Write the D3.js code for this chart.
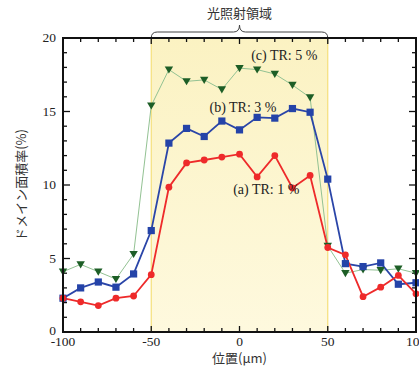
<!DOCTYPE html>
<html>
<head>
<meta charset="utf-8">
<script src="https://cdn.jsdelivr.net/npm/d3@7"></script>
<style>
  body { margin: 0; background: #fff; }
  text { font-family: "Liberation Serif", "DejaVu Serif", serif; }
  .cjk { font-family: "Noto Sans CJK JP", sans-serif; }
</style>
</head>
<body>
<div id="chart"></div>
<script>
// data
const positions = [-100, -90, -80, -70, -60, -50, -40, -30, -20, -10, 0, 10, 20, 30, 40, 50, 60, 70, 80, 90, 100]
const tr1 = [2.3, 2.05, 1.8, 2.3, 2.45, 3.9, 9.85, 11.5, 11.7, 11.9, 12.1, 10.55, 12.0, 9.8, 10.65, 5.75, 5.25, 2.4, 3.05, 3.85, 2.6]
const tr3 = [2.3, 3.0, 3.4, 3.05, 3.95, 6.9, 12.85, 13.85, 13.3, 14.35, 13.75, 14.6, 14.55, 15.2, 14.95, 10.4, 4.65, 4.45, 4.7, 3.25, 3.35]
const tr5 = [4.1, 4.6, 4.1, 3.6, 5.3, 15.4, 17.85, 17.05, 17.15, 16.5, 17.95, 17.85, 17.55, 16.8, 15.95, 5.85, 4.0, 4.25, 4.2, 4.3, 4.0]
const regionRange = [-50, 50]
const regionLabel = "光照射領域"
const xTicks = [-100, -50, 0, 50, 100]
const yTicks = [0, 5, 10, 15, 20]

const width = 419
const height = 369
const margin = { top: 38, right: 3, bottom: 37, left: 63 }

const svg = d3.select("#chart").append("svg")
  .attr("width", width)
  .attr("height", height)

const x = d3.scaleLinear().domain([-100, 100]).range([margin.left, width - margin.right])
const y = d3.scaleLinear().domain([0, 20]).range([height - margin.bottom, margin.top])

// yellow irradiated region
const grad = svg.append("defs").append("linearGradient")
  .attr("id", "yel").attr("x1", 0).attr("y1", 0).attr("x2", 0).attr("y2", 1)
grad.append("stop").attr("offset", "0%").attr("stop-color", "#fbf2c2")
grad.append("stop").attr("offset", "100%").attr("stop-color", "#fef9de")

svg.append("rect")
  .attr("x", x(regionRange[0]))
  .attr("y", y(20))
  .attr("width", x(regionRange[1]) - x(regionRange[0]))
  .attr("height", y(0) - y(20))
  .attr("fill", "url(#yel)")

regionRange.forEach(v => {
  svg.append("line")
    .attr("x1", x(v)).attr("x2", x(v))
    .attr("y1", y(20)).attr("y2", y(0))
    .attr("stroke", "#f5df7a")
    .attr("stroke-width", 1.2)
})

// brace above region
const bx0 = x(regionRange[0]), bx1 = x(regionRange[1]), bm = (bx0 + bx1) / 2
const by = y(20), bt = by - 6, bp = by - 13
svg.append("path")
  .attr("d", `M${bx0},${by} Q${bx0},${bt} ${bx0 + 6},${bt} L${bm - 6},${bt} Q${bm},${bt} ${bm},${bp} Q${bm},${bt} ${bm + 6},${bt} L${bx1 - 6},${bt} Q${bx1},${bt} ${bx1},${by}`)
  .attr("fill", "none")
  .attr("stroke", "#444")
  .attr("stroke-width", 1)

svg.append("text")
  .attr("class", "cjk")
  .attr("x", bm)
  .attr("y", 18)
  .attr("text-anchor", "middle")
  .attr("font-size", 13)
  .attr("fill", "#333")
  .text(regionLabel)

// ticks (inward, all four sides)
const tickG = svg.append("g").attr("stroke", "#111").attr("stroke-width", 1.3)
d3.range(-100, 101, 10).forEach(v => {
  const len = v % 50 === 0 ? 6 : 4
  tickG.append("line").attr("x1", x(v)).attr("x2", x(v)).attr("y1", y(0)).attr("y2", y(0) - len)
  tickG.append("line").attr("x1", x(v)).attr("x2", x(v)).attr("y1", y(20)).attr("y2", y(20) + len)
})
d3.range(0, 21, 1).forEach(v => {
  const len = v % 5 === 0 ? 7 : 4
  tickG.append("line").attr("x1", x(-100)).attr("x2", x(-100) + len).attr("y1", y(v)).attr("y2", y(v))
  tickG.append("line").attr("x1", x(100)).attr("x2", x(100) - len).attr("y1", y(v)).attr("y2", y(v))
})

// lines + markers
const line = d3.line().x((d, i) => x(positions[i])).y(d => y(d))

svg.append("path").datum(tr5)
  .attr("d", line).attr("fill", "none")
  .attr("stroke", "#93c293").attr("stroke-width", 1)
svg.append("path").datum(tr3)
  .attr("d", line).attr("fill", "none")
  .attr("stroke", "#2a45a8").attr("stroke-width", 1.8)
svg.append("path").datum(tr1)
  .attr("d", line).attr("fill", "none")
  .attr("stroke", "#ee2a2a").attr("stroke-width", 1.8)

svg.append("g").selectAll("path").data(tr5).join("path")
  .attr("transform", (d, i) => `translate(${x(positions[i])},${y(d)})`)
  .attr("d", "M-4.2,-3.2 L4.2,-3.2 L0,4 Z")
  .attr("fill", "#1d5e26")

svg.append("g").selectAll("rect").data(tr3).join("rect")
  .attr("x", (d, i) => x(positions[i]) - 3.6)
  .attr("y", d => y(d) - 3.6)
  .attr("width", 7.2).attr("height", 7.2)
  .attr("fill", "#2443a8")

svg.append("g").selectAll("circle").data(tr1).join("circle")
  .attr("cx", (d, i) => x(positions[i]))
  .attr("cy", d => y(d))
  .attr("r", 3.4)
  .attr("fill", "#ee2a2a")

// frame
svg.append("rect")
  .attr("x", x(-100)).attr("y", y(20))
  .attr("width", x(100) - x(-100)).attr("height", y(0) - y(20))
  .attr("fill", "none").attr("stroke", "#111").attr("stroke-width", 2)

// tick labels
svg.append("g").selectAll("text").data(xTicks).join("text")
  .attr("x", d => x(d)).attr("y", y(0) + 14)
  .attr("text-anchor", "middle").attr("font-size", 13.5).attr("fill", "#222")
  .text(d => d)
svg.append("g").selectAll("text").data(yTicks).join("text")
  .attr("x", x(-100) - 7).attr("y", d => y(d) + (d === 0 ? 3 : 4))
  .attr("text-anchor", "end").attr("font-size", 13.5).attr("fill", "#222")
  .text(d => d)

// axis titles
svg.append("text")
  .attr("class", "cjk")
  .attr("x", x(0)).attr("y", 363)
  .attr("text-anchor", "middle").attr("font-size", 13).attr("fill", "#333")
  .text("位置(μm)")
svg.append("text")
  .attr("class", "cjk")
  .attr("transform", `translate(26,${y(10)}) rotate(-90)`)
  .attr("text-anchor", "middle").attr("font-size", 13).attr("fill", "#333")
  .text("ドメイン面積率(%)")

// series labels
const labels = [
  { text: "(c) TR: 5 %", px: 6.6, py: 18.5 },
  { text: "(b) TR: 3 %", px: -17, py: 15.0 },
  { text: "(a) TR: 1 %", px: -3.6, py: 9.4 }
]
svg.append("g").selectAll("text").data(labels).join("text")
  .attr("x", d => x(d.px)).attr("y", d => y(d.py))
  .attr("font-size", 14).attr("fill", "#222")
  .text(d => d.text)
</script>
</body>
</html>
